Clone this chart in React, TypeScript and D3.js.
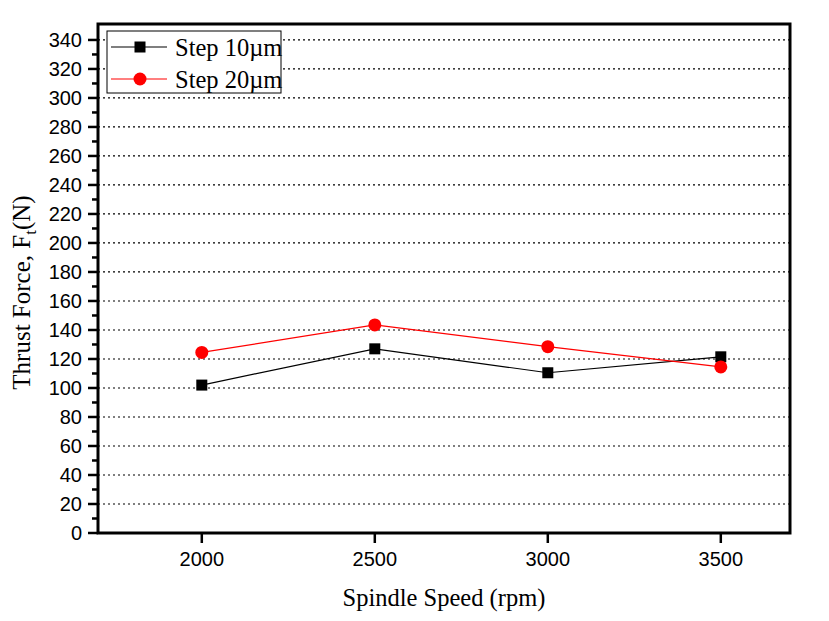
import React from "react";
import * as d3 from "d3";

const speeds = [2000, 2500, 3000, 3500];
const step10 = [102, 127, 110.5, 121.5];
const step20 = [124.5, 143.5, 128.5, 114.5];
const yTicks = d3.range(0, 341, 20);
const yMinor = d3.range(10, 341, 20);
const seriesNames = ["Step 10\u00b5m", "Step 20\u00b5m"];

const W = 829, H = 621;
const L = 98, R = 790, T = 24, B = 533;
const SANS = "'Liberation Sans', Arial, sans-serif";
const SERIF = "'Liberation Serif', 'Times New Roman', serif";

export default function App() {
  const x = d3.scaleLinear().domain([1700, 3700]).range([L, R]);
  const y = d3.scaleLinear().domain([0, 351]).range([B, T]);
  const line = d3.line<number>().x((_, i) => x(speeds[i])).y(d => y(d));
  return (
    <svg width={W} height={H} style={{ position: "absolute", left: 0, top: 0 }}>
      <rect width={W} height={H} fill="white" />
      {yTicks.filter(v => v > 0).map(v => (
        <line key={"g" + v} x1={L} x2={R} y1={y(v)} y2={y(v)} stroke="black" strokeWidth={1.2} strokeDasharray="2,3" />
      ))}
      <path d={line(step10) || ""} fill="none" stroke="black" strokeWidth={1.2} />
      <path d={line(step20) || ""} fill="none" stroke="red" strokeWidth={1.2} />
      {step10.map((v, i) => (
        <rect key={"s" + i} x={x(speeds[i]) - 5.5} y={y(v) - 5.5} width={11} height={11} fill="black" />
      ))}
      {step20.map((v, i) => (
        <circle key={"c" + i} cx={x(speeds[i])} cy={y(v)} r={6.5} fill="red" />
      ))}
      <rect x={L} y={T} width={R - L} height={B - T} fill="none" stroke="black" strokeWidth={3} />
      {yTicks.map(v => (
        <g key={"t" + v}>
          <line x1={L - 10} x2={L} y1={y(v)} y2={y(v)} stroke="black" strokeWidth={2.5} />
          <text x={L - 16} y={y(v)} dy="0.36em" textAnchor="end" fontFamily={SANS} fontSize={20}>{v}</text>
        </g>
      ))}
      {yMinor.map(v => (
        <line key={"m" + v} x1={L - 6} x2={L} y1={y(v)} y2={y(v)} stroke="black" strokeWidth={2.5} />
      ))}
      {speeds.map(s => (
        <g key={"x" + s}>
          <line x1={x(s)} x2={x(s)} y1={B} y2={B + 10} stroke="black" strokeWidth={2.5} />
          <text x={x(s)} y={B + 33} textAnchor="middle" fontFamily={SANS} fontSize={20}>{s}</text>
        </g>
      ))}
      <text x={(L + R) / 2} y={606} textAnchor="middle" fontFamily={SERIF} fontSize={24.5}>Spindle Speed (rpm)</text>
      <text transform={`translate(30, ${(T + B) / 2 + 14}) rotate(-90)`} textAnchor="middle" fontFamily={SERIF} fontSize={25}>
        Thrust Force, F<tspan fontSize={17} dy={6}>t</tspan><tspan dy={-6}>(N)</tspan>
      </text>
      <rect x={107} y={31} width={174} height={62} fill="white" stroke="black" strokeWidth={1} />
      <line x1={111} x2={167} y1={47} y2={47} stroke="black" strokeWidth={1.2} />
      <rect x={134.5} y={41.5} width={11} height={11} fill="black" />
      <text x={175} y={47} dy="0.35em" fontFamily={SERIF} fontSize={24.5}>{seriesNames[0]}</text>
      <line x1={111} x2={167} y1={79} y2={79} stroke="red" strokeWidth={1.2} />
      <circle cx={140} cy={79} r={6.5} fill="red" />
      <text x={175} y={79} dy="0.35em" fontFamily={SERIF} fontSize={24.5}>{seriesNames[1]}</text>
    </svg>
  );
}
